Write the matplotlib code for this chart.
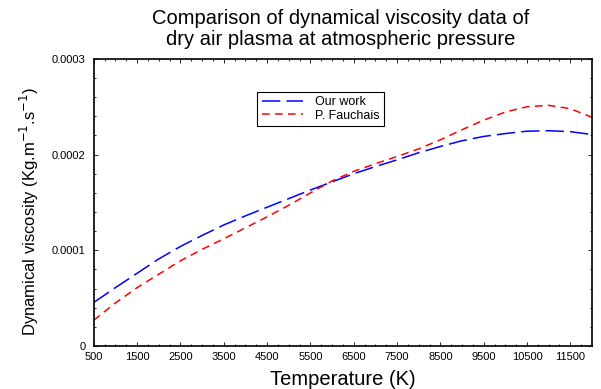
import matplotlib
matplotlib.use("Agg")
import matplotlib.pyplot as plt
from matplotlib.ticker import MultipleLocator, AutoMinorLocator

plt.rcParams['font.family'] = ['Liberation Sans', 'DejaVu Sans']

# Data
temperature = [500, 1000, 1500, 2000, 2500, 3000, 3500, 4000, 4500, 5000, 5500, 6000,
               6500, 7000, 7500, 8000, 8500, 9000, 9500, 10000, 10500, 11000, 11500, 12000]
our_work = [4.55e-5, 6.1e-5, 7.6e-5, 9.1e-5, 1.04e-4, 1.155e-4, 1.265e-4, 1.36e-4, 1.45e-4,
            1.54e-4, 1.63e-4, 1.715e-4, 1.80e-4, 1.875e-4, 1.945e-4, 2.02e-4, 2.085e-4,
            2.145e-4, 2.19e-4, 2.22e-4, 2.245e-4, 2.25e-4, 2.24e-4, 2.21e-4]
fauchais = [2.7e-5, 4.5e-5, 6.1e-5, 7.5e-5, 8.9e-5, 1.01e-4, 1.12e-4, 1.235e-4, 1.35e-4,
            1.47e-4, 1.60e-4, 1.725e-4, 1.825e-4, 1.905e-4, 1.98e-4, 2.06e-4, 2.155e-4,
            2.26e-4, 2.36e-4, 2.445e-4, 2.50e-4, 2.515e-4, 2.48e-4, 2.39e-4]
xticks = [500, 1500, 2500, 3500, 4500, 5500, 6500, 7500, 8500, 9500, 10500, 11500]
yticks = [0, 0.0001, 0.0002, 0.0003]
ytick_labels = ["0", "0.0001", "0.0002", "0.0003"]

fig = plt.figure(figsize=(6.01, 3.89), dpi=100)
ax = fig.add_axes([0.156, 0.1105, 0.829, 0.738])

ax.plot(temperature, our_work, color='blue', lw=1.1, dashes=(12, 4), label='Our work')
ax.plot(temperature, fauchais, color='red', lw=1.1, dashes=(5, 3.5), label='P. Fauchais')

ax.set_xlim(500, 12000)
ax.set_ylim(0, 0.0003)
ax.set_xticks(xticks)
ax.set_xticklabels([str(t) for t in xticks])
ax.set_yticks(yticks)
ax.set_yticklabels(ytick_labels)
ax.xaxis.set_minor_locator(MultipleLocator(250))
ax.yaxis.set_minor_locator(AutoMinorLocator(5))
ax.tick_params(which='both', direction='in', top=True, right=True, labelsize=8, width=0.6)
ax.tick_params(which='major', length=3)
ax.tick_params(axis='x', which='major', pad=4)
ax.tick_params(axis='y', which='major', pad=6)
ax.tick_params(which='minor', length=1.5)
for s in ax.spines.values():
    s.set_linewidth(1.2)

ax.set_xlabel('Temperature (K)', fontsize=14.5, labelpad=6)
ax.set_ylabel(r'Dynamical viscosity (Kg.m$^{-1}$.s$^{-1}$)', fontsize=12)
ax.yaxis.set_label_coords(-0.105, 0.47)
fig.suptitle('Comparison of dynamical viscosity data of\ndry air plasma at atmospheric pressure',
             x=0.567, y=0.978, fontsize=14.5, linespacing=1.15)

leg = ax.legend(loc='upper left', bbox_to_anchor=(0.328, 0.885), fontsize=9,
                frameon=True, fancybox=False, edgecolor='black', framealpha=1,
                handlelength=3.3, handletextpad=1.0, borderpad=0.35, labelspacing=0.1,
                borderaxespad=0)
leg.get_frame().set_linewidth(0.8)

fig.savefig("out.png", dpi=100)
